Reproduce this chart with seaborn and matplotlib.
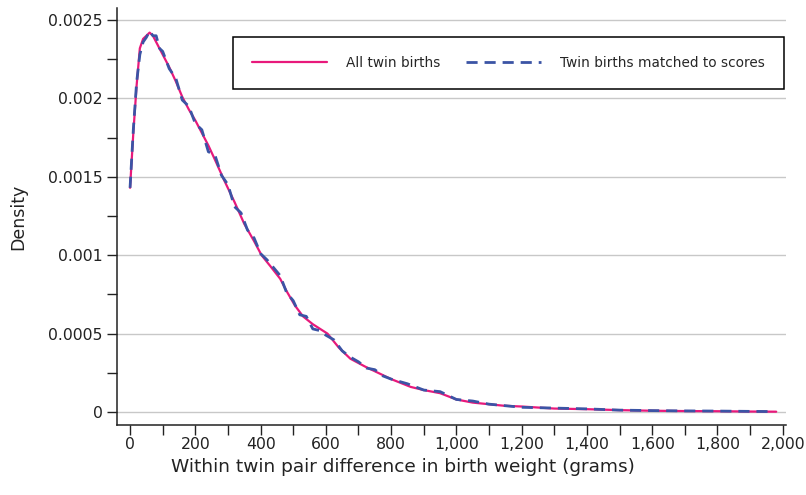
import pandas as pd
import matplotlib
matplotlib.use("Agg")
import matplotlib.pyplot as plt
import seaborn as sns
from matplotlib.ticker import MultipleLocator, FuncFormatter

# all twin births (grams, density)
all_g = [0, 10, 20, 30, 40, 50, 60, 70, 80, 100, 120, 140, 160, 180, 200, 220, 240, 260,
         288, 320, 350, 380, 403, 430, 460, 480, 505, 530, 560, 605, 640, 675, 720, 760,
         800, 860, 900, 950, 1000, 1050, 1145, 1200, 1300, 1400, 1500, 1600, 1700, 1800,
         1900, 1980]
all_d = [0.00143, 0.00178, 0.00208, 0.00232, 0.00238, 0.0024, 0.00242, 0.0024, 0.00236,
         0.00228, 0.0022, 0.00211, 0.00201, 0.00193, 0.00186, 0.00178, 0.0017, 0.00161,
         0.00148, 0.00134, 0.0012, 0.00109, 0.001, 0.00093, 0.00085, 0.00077, 0.00068,
         0.00061, 0.00056, 0.0005, 0.00041, 0.00034, 0.00029, 0.00025, 0.00021, 0.00016,
         0.00014, 0.00012, 0.00008, 0.00006, 0.00004, 0.000035, 0.000022, 0.000018,
         0.000012, 0.000008, 0.000006, 0.000005, 0.000003, 0.000002]

# twin births matched to scores
match_g = [0, 10, 20, 30, 40, 50, 60, 70, 80, 90, 100, 120, 140, 160, 180, 200, 220, 240,
           260, 280, 300, 320, 340, 360, 380, 400, 420, 440, 460, 480, 500, 520, 540, 560,
           580, 600, 625, 650, 675, 700, 725, 750, 775, 800, 850, 900, 950, 1000, 1050,
           1100, 1150, 1200, 1300, 1400, 1500, 1600, 1700, 1800, 1900, 1960]
match_d = [0.00143, 0.0018, 0.0021, 0.00228, 0.00236, 0.00239, 0.00243, 0.0024, 0.0024,
           0.00232, 0.0023, 0.00219, 0.00213, 0.00199, 0.00195, 0.00184, 0.0018, 0.00166,
           0.00164, 0.00151, 0.00145, 0.00131, 0.00127, 0.00116, 0.00111, 0.00101,
           0.00097, 0.00092, 0.00087, 0.00076, 0.00071, 0.00062, 0.00061, 0.00053,
           0.00052, 0.00049, 0.00046, 0.00039, 0.00035, 0.00032, 0.00028, 0.00027,
           0.00023, 0.00021, 0.00018, 0.00014, 0.00013, 0.00008, 0.00007, 0.00005,
           0.00004, 0.00003, 0.000025, 0.00002, 0.000012, 0.000009, 0.000007, 0.000006,
           0.000004, 0.000003]

y_ticks = [0, 0.0005, 0.001, 0.0015, 0.002, 0.0025]
y_labels = ["0", "0.0005", "0.001", "0.0015", "0.002", "0.0025"]

df_all = pd.DataFrame({"g": all_g, "d": all_d})
df_match = pd.DataFrame({"g": match_g, "d": match_d})

sns.set_style("ticks")
plt.rcParams["font.family"] = ["DejaVu Sans"]

fig = plt.figure(figsize=(8.06, 4.95), dpi=100)
ax = fig.add_axes([117 / 806, 70 / 495, 669 / 806, 417 / 495])

pink = "#E8197B"
blue = "#3B54A5"
sns.lineplot(data=df_all, x="g", y="d", ax=ax, color=pink, lw=1.6,
             label="All twin births")
sns.lineplot(data=df_match, x="g", y="d", ax=ax, color=blue, lw=2.0,
             dashes=False, label="Twin births matched to scores")
ax.lines[1].set_linestyle((0, (4, 2.5)))

ax.set_xlim(-40, 2010)
ax.set_ylim(-0.0000829, 0.002577)
ax.set_yticks(y_ticks)
ax.set_yticklabels(y_labels)
ax.yaxis.set_minor_locator(MultipleLocator(0.00025))
ax.xaxis.set_major_locator(MultipleLocator(200))
ax.xaxis.set_minor_locator(MultipleLocator(100))
ax.xaxis.set_major_formatter(FuncFormatter(lambda v, p: f"{int(v):,}"))
ax.grid(axis="y", color="#c8c8c8", lw=1.0)
ax.set_axisbelow(True)

ax.tick_params(axis="both", which="major", length=7, width=1, labelsize=11.3,
               color="#222222", labelcolor="#222222")
ax.tick_params(axis="both", which="minor", length=7, width=1, color="#222222")
ax.tick_params(axis="x", which="both", pad=1.5)
for s in ["left", "bottom"]:
    ax.spines[s].set_linewidth(1.1)
    ax.spines[s].set_color("#222222")
sns.despine(ax=ax)

ax.set_xlabel("Within twin pair difference in birth weight (grams)", fontsize=13.3,
              color="#222222", va="center")
ax.xaxis.set_label_coords((403 - 117) / 669, (425 - 467) / 417)
ax.set_ylabel("Density", fontsize=12.5, color="#222222", labelpad=15)

leg = ax.legend(loc="upper right", bbox_to_anchor=(0.997, 0.931), ncol=2,
                fontsize=9.8, frameon=True, fancybox=False, handlelength=5.5,
                columnspacing=1.9, handletextpad=1.4, borderpad=1.4,
                borderaxespad=0)
leg.get_frame().set_edgecolor("black")
leg.get_frame().set_linewidth(1.1)
leg.get_frame().set_alpha(1)

fig.savefig("out.png", dpi=100)
